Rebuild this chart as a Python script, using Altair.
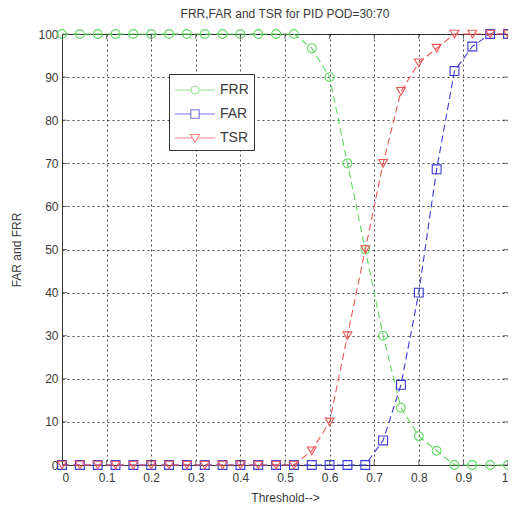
import altair as alt
import pandas as pd

# ---- data ----
thresholds = [0.00, 0.04, 0.08, 0.12, 0.16, 0.20, 0.24, 0.28, 0.32, 0.36, 0.40, 0.44, 0.48,
              0.52, 0.56, 0.60, 0.64, 0.68, 0.72, 0.76, 0.80, 0.84, 0.88, 0.92, 0.96, 1.00]
frr = [100, 100, 100, 100, 100, 100, 100, 100, 100, 100, 100, 100, 100,
       100, 96.7, 90, 70, 50, 30, 13.3, 6.7, 3.3, 0, 0, 0, 0]
far = [0, 0, 0, 0, 0, 0, 0, 0, 0, 0, 0, 0, 0,
       0, 0, 0, 0, 0, 5.7, 18.6, 40, 68.6, 91.4, 97.1, 100, 100]
tsr = [0, 0, 0, 0, 0, 0, 0, 0, 0, 0, 0, 0, 0,
       0, 3.3, 10, 30, 50, 70, 86.7, 93.3, 96.7, 100, 100, 100, 100]
series_names = ["FRR", "FAR", "TSR"]
x_ticks = [0, 0.1, 0.2, 0.3, 0.4, 0.5, 0.6, 0.7, 0.8, 0.9, 1]
y_ticks = [0, 10, 20, 30, 40, 50, 60, 70, 80, 90, 100]

# ---- styles ----
series_colors = ["#62d862", "#3a3ad4", "#ee5656"]
series_shapes = ["circle", "square", "triangle-down"]
legend_paths = [
    "M-1,0L0.6,0M1.4,0L3,0M0.6,0A0.4,0.4 0 1,1 1.4,0A0.4,0.4 0 1,1 0.6,0Z",
    "M-1,0L0.58,0M1.42,0L3,0M0.58,-0.42L1.42,-0.42L1.42,0.42L0.58,0.42Z",
    "M-1,0L0.75,0M1.25,0L3,0M0.55,-0.35L1.45,-0.35L1,0.45Z",
]
FONT = "Liberation Sans"
TXT = "#3a3a3a"

series_values = {"FRR": frr, "FAR": far, "TSR": tsr}
rows = []
for name in series_names:
    for t, v in zip(thresholds, series_values[name]):
        rows.append({"threshold": t, "value": v, "series": name})
df = pd.DataFrame(rows)
xt_df = pd.DataFrame({"xt": x_ticks})
yt_df = pd.DataFrame({"yt": y_ticks})

xscale = alt.Scale(domain=[0, 1], nice=False, zero=False)
yscale = alt.Scale(domain=[0, 100], nice=False, zero=False)
xaxis = alt.Axis(values=x_ticks, format="~g", title="Threshold-->", ticks=False,
                 labelPadding=7, titlePadding=9, labelFlush=True)
yaxis = alt.Axis(values=y_ticks, title="FAR and FRR", ticks=False,
                 labelPadding=4, titlePadding=14)

layers = []
for name, col, shp in zip(series_names, series_colors, series_shapes):
    sub = alt.Chart(df).transform_filter(alt.datum.series == name)
    enc = dict(
        x=alt.X("threshold:Q", scale=xscale, axis=xaxis),
        y=alt.Y("value:Q", scale=yscale, axis=yaxis),
    )
    layers.append(sub.mark_line(color=col, strokeWidth=1.1, strokeDash=[7, 4]).encode(**enc))
    layers.append(sub.mark_point(shape=shp, color=col, filled=False, size=78,
                                 strokeWidth=1.1, opacity=1).encode(**enc))

# inward ticks on all four sides
for ydat in (0, 100):
    layers.append(alt.Chart(xt_df).mark_tick(orient="vertical", size=10, thickness=1,
                                             color="#333", clip=True).encode(
        x=alt.X("xt:Q", scale=xscale, axis=xaxis),
        y=alt.YDatum(ydat, scale=yscale, axis=yaxis),
    ))
for xdat in (0, 1):
    layers.append(alt.Chart(yt_df).mark_tick(orient="horizontal", size=10, thickness=1,
                                             color="#333", clip=True).encode(
        y=alt.Y("yt:Q", scale=yscale, axis=yaxis),
        x=alt.XDatum(xdat, scale=xscale, axis=xaxis),
    ))

# legend-only layer (draws no marks)
leg = alt.Legend(title=None, orient="none", legendX=107, legendY=40, padding=5,
                 strokeColor="#333", fillColor="white", labelFontSize=14, labelFont=FONT,
                 labelColor=TXT, rowPadding=6, symbolStrokeWidth=1.1, labelOffset=24,
                 symbolSize=400, cornerRadius=0)
layers.append(alt.Chart(df).mark_point(filled=False, size=400, strokeWidth=1.1).encode(
    x=alt.X("threshold:Q", scale=xscale, axis=xaxis),
    y=alt.Y("value:Q", scale=yscale, axis=yaxis),
    color=alt.Color("series:N", scale=alt.Scale(domain=series_names, range=series_colors), legend=leg),
    shape=alt.Shape("series:N", scale=alt.Scale(domain=series_names, range=legend_paths), legend=leg),
).transform_filter("false"))

chart = alt.layer(*layers).properties(
    width=446, height=431,
    title=alt.TitleParams("FRR,FAR and TSR for PID POD=30:70", fontSize=12, font=FONT,
                          fontWeight="normal", color=TXT, offset=6),
    autosize=alt.AutoSizeParams(type="none"),
    padding={"left": 54, "top": 26, "right": 0, "bottom": 38},
).configure_view(stroke="#333", strokeWidth=1).configure_axis(
    grid=True, gridColor="#111", gridDash=[2, 3], gridOpacity=0.75, gridWidth=1,
    domainColor="#333", domainWidth=1,
    labelFont=FONT, labelFontSize=12, labelColor=TXT,
    titleFont=FONT, titleFontSize=12, titleColor=TXT, titleFontWeight="normal",
)

chart.save("out.html", embed_options={"renderer": "svg", "actions": False})
